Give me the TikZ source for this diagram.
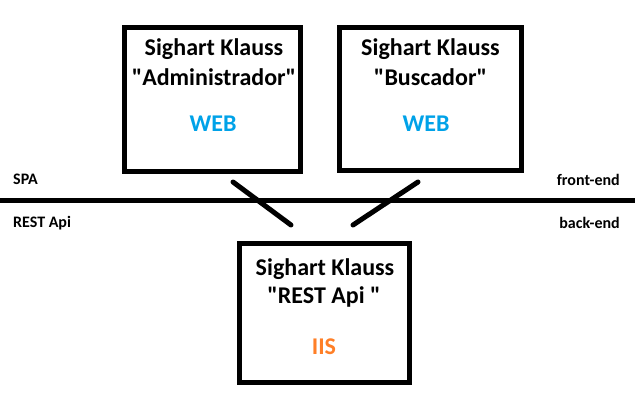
\documentclass[tikz,border=0pt]{standalone}
\usepackage{fontspec}
\setmainfont{Carlito}[Ligatures=TeXOff]
\definecolor{webblue}{HTML}{00A2E8}
\definecolor{iisorange}{HTML}{FF7F27}
\begin{document}
\begin{tikzpicture}[x=1pt,y=-1pt,
  box/.style={draw=black, line width=5pt, inner sep=0pt},
  big/.style={font=\fontsize{24}{28}\selectfont\bfseries, inner sep=0pt, anchor=center},
  small/.style={font=\fontsize{16}{19}\selectfont\bfseries, inner sep=0pt},
  link/.style={line width=5pt}]
\useasboundingbox (0,0) rectangle (635,407);
% boxes
\node[box, minimum width=176pt, minimum height=144pt] (admin) at (212.5,99.5) {};
\node[box, minimum width=182pt, minimum height=143pt] (busc) at (430.5,99) {};
\node[box, minimum width=170pt, minimum height=139pt] (rest) at (324.5,313) {};
% texts box 1
\node[big] (a1) at (214,49) {Sighart Klauss};
\node[big] (a2) at (214,77) {"Administrador"};
\node[big, text=webblue] (a3) at (213,124) {WEB};
% texts box 2
\node[big] (b1) at (430.5,49) {Sighart Klauss};
\node[big] (b2) at (430.5,77) {"Buscador"};
\node[big, text=webblue] (b3) at (426,124) {WEB};
% texts box 3
\node[big] (r1) at (325,269) {Sighart Klauss};
\node[big] (r2) at (324,297) {"REST Api "};
\node[big, text=iisorange] (r3) at (324,347) {IIS};
% separator
\coordinate (sl) at (0,200);
\coordinate (sr) at (635,200);
\draw[link] (sl) -- (sr);
\node[small, anchor=west] (spa) at (13,179) {SPA};
\node[small, anchor=east] (fe) at (620,180) {front-end};
\node[small, anchor=west] (ra) at (13,223) {REST Api};
\node[small, anchor=east] (be) at (620,223) {back-end};
% links
\coordinate (l1a) at (233,182);
\coordinate (l1b) at (291,225);
\coordinate (l2a) at (418,182);
\coordinate (l2b) at (353,225);
\draw[link, line cap=round] (l1a) -- (l1b);
\draw[link, line cap=round] (l2a) -- (l2b);
\end{tikzpicture}
\end{document}
